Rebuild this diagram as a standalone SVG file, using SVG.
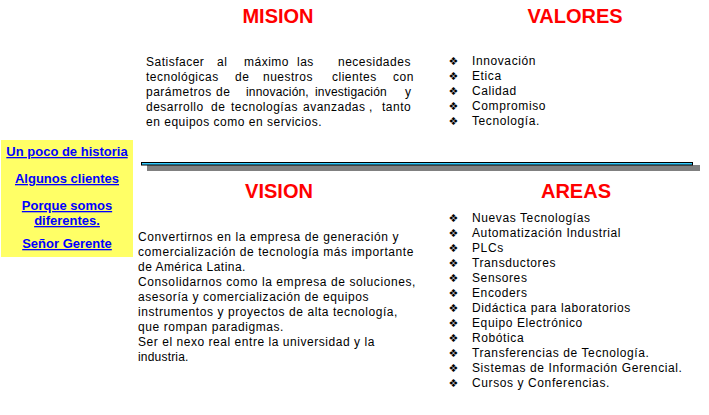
<svg xmlns="http://www.w3.org/2000/svg" width="709" height="415" viewBox="0 0 709 415">
<style>
.title{font-family:"Liberation Sans",Arial,sans-serif;font-weight:bold;font-size:20px;fill:#FF0000;text-anchor:middle}
.body{font-family:"Liberation Sans",Arial,sans-serif;font-size:12px;fill:#000;letter-spacing:0.6px}
.mis{letter-spacing:0.5px}
.tight{letter-spacing:0.2px}
.link{font-family:"Liberation Sans",Arial,sans-serif;font-weight:bold;font-size:13px;fill:#0000FF;text-anchor:middle;text-decoration:underline}
.bul{font-family:"DejaVu Sans",sans-serif;font-size:11px;fill:#000;text-anchor:middle}
</style>
<rect width="709" height="415" fill="#FFFFFF"/>
<g id="menu">
<rect x="1" y="140" width="132" height="117" fill="#FFFF66"/>
<text class="link" x="67" y="156">Un poco de historia</text>
<text class="link" x="67" y="183">Algunos clientes</text>
<text class="link" x="67" y="210">Porque somos</text>
<text class="link" x="67" y="225">diferentes.</text>
<text class="link" x="67" y="248">Señor Gerente</text>
</g>
<g id="mision">
<text class="title" x="278" y="23">MISION</text>
<text class="body mis" y="66"><tspan x="146">Satisfacer</tspan><tspan x="217">al</tspan><tspan x="244">máximo</tspan><tspan x="297">las</tspan><tspan x="338">necesidades</tspan></text>
<text class="body mis" y="81"><tspan x="146">tecnológicas</tspan><tspan x="235">de</tspan><tspan x="263">nuestros</tspan><tspan x="332">clientes</tspan><tspan x="393">con</tspan></text>
<text class="body mis" y="96"><tspan x="146">parámetros</tspan><tspan x="216">de</tspan></text>
<text class="body tight" y="96"><tspan x="246">innovación,</tspan><tspan x="315">investigación</tspan></text>
<text class="body mis" x="405" y="96">y</text>
<text class="body mis" y="111"><tspan x="146">desarrollo</tspan><tspan x="211">de</tspan><tspan x="231">tecnologías</tspan><tspan x="303">avanzadas</tspan><tspan x="369">,</tspan><tspan x="382">tanto</tspan></text>
<text class="body mis" x="146" y="126" textLength="176" lengthAdjust="spacing">en equipos como en servicios.</text>
</g>
<g id="valores">
<text class="title" x="575" y="23">VALORES</text>
<text class="bul" x="453.5" y="65">❖</text>
<text class="bul" x="453.5" y="80">❖</text>
<text class="bul" x="453.5" y="95">❖</text>
<text class="bul" x="453.5" y="110">❖</text>
<text class="bul" x="453.5" y="125">❖</text>
<text class="body" x="472" y="65">Innovación</text>
<text class="body" x="472" y="80">Etica</text>
<text class="body" x="472" y="95">Calidad</text>
<text class="body" x="472" y="110">Compromiso</text>
<text class="body" x="472" y="125">Tecnología.</text>
</g>
<g id="separator">
<rect x="147" y="165" width="553" height="6" fill="#808080"/>
<rect x="141.5" y="162.5" width="551" height="2.5" fill="#33CCFF" stroke="#000" stroke-width="1"/>
</g>
<g id="vision">
<text class="title" x="279" y="198">VISION</text>
<text class="body" x="138" y="241" textLength="261" lengthAdjust="spacing">Convertirnos en la empresa de generación y</text>
<text class="body" x="138" y="256" textLength="276" lengthAdjust="spacing">comercialización de tecnología más importante</text>
<text class="body" x="138" y="271" textLength="108" lengthAdjust="spacing">de América Latina.</text>
<text class="body" x="138" y="286" textLength="278" lengthAdjust="spacing">Consolidarnos como la empresa de soluciones,</text>
<text class="body" x="138" y="301" textLength="231" lengthAdjust="spacing">asesoría y comercialización de equipos</text>
<text class="body" x="138" y="316" textLength="260" lengthAdjust="spacing">instrumentos y proyectos de alta tecnología,</text>
<text class="body" x="138" y="331" textLength="146" lengthAdjust="spacing">que rompan paradigmas.</text>
<text class="body" x="138" y="346" textLength="237" lengthAdjust="spacing">Ser el nexo real entre la universidad y la</text>
<text class="body" x="138" y="361" textLength="51" lengthAdjust="spacing">industria.</text>
</g>
<g id="areas">
<text class="title" x="576" y="198">AREAS</text>
<text class="bul" x="453.5" y="222">❖</text>
<text class="bul" x="453.5" y="237">❖</text>
<text class="bul" x="453.5" y="252">❖</text>
<text class="bul" x="453.5" y="267">❖</text>
<text class="bul" x="453.5" y="282">❖</text>
<text class="bul" x="453.5" y="297">❖</text>
<text class="bul" x="453.5" y="312">❖</text>
<text class="bul" x="453.5" y="327">❖</text>
<text class="bul" x="453.5" y="342">❖</text>
<text class="bul" x="453.5" y="357">❖</text>
<text class="bul" x="453.5" y="372">❖</text>
<text class="bul" x="453.5" y="387">❖</text>
<text class="body" x="472" y="222">Nuevas Tecnologías</text>
<text class="body" x="472" y="237">Automatización Industrial</text>
<text class="body" x="472" y="252">PLCs</text>
<text class="body" x="472" y="267">Transductores</text>
<text class="body" x="472" y="282">Sensores</text>
<text class="body" x="472" y="297">Encoders</text>
<text class="body" x="472" y="312">Didáctica para laboratorios</text>
<text class="body" x="472" y="327">Equipo Electrónico</text>
<text class="body" x="472" y="342">Robótica</text>
<text class="body" x="472" y="357">Transferencias de Tecnología.</text>
<text class="body" x="472" y="372">Sistemas de Información Gerencial.</text>
<text class="body" x="472" y="387">Cursos y Conferencias.</text>
</g>
</svg>
